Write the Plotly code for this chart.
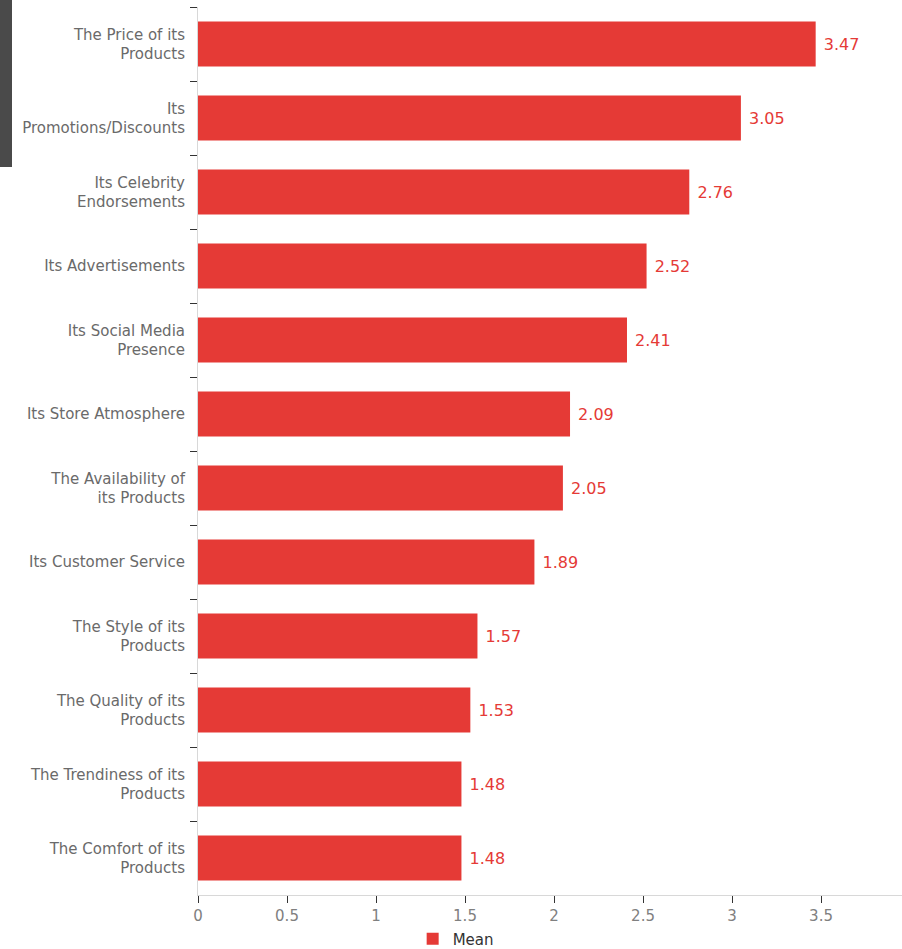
import plotly.graph_objects as go

# Mean importance rating for each attribute
attributes = [
    "The Price of its<br>Products",
    "Its<br>Promotions/Discounts",
    "Its Celebrity<br>Endorsements",
    "Its Advertisements",
    "Its Social Media<br>Presence",
    "Its Store Atmosphere",
    "The Availability of<br>its Products",
    "Its Customer Service",
    "The Style of its<br>Products",
    "The Quality of its<br>Products",
    "The Trendiness of its<br>Products",
    "The Comfort of its<br>Products",
]
mean_values = [3.47, 3.05, 2.76, 2.52, 2.41, 2.09, 2.05, 1.89, 1.57, 1.53, 1.48, 1.48]
x_tick_values = [0, 0.5, 1, 1.5, 2, 2.5, 3, 3.5]
x_tick_labels = ["0", "0.5", "1", "1.5", "2", "2.5", "3", "3.5"]

RED = "#e53a36"
FONT = "'DejaVu Sans', 'Open Sans', sans-serif"

fig = go.Figure(
    go.Bar(
        x=mean_values,
        y=attributes,
        orientation="h",
        name="Mean",
        marker=dict(color=RED, line=dict(width=0)),
        text=mean_values,
        texttemplate=" %{x:.2f}",
        textposition="outside",
        textfont=dict(color=RED, size=16, family=FONT),
        cliponaxis=False,
        showlegend=True,
    )
)

fig.update_layout(
    width=902,
    height=949,
    margin=dict(l=198, r=0, t=7, b=54, autoexpand=False),
    paper_bgcolor="white",
    plot_bgcolor="white",
    bargap=0.39,
    font=dict(family=FONT, color="#666666", size=15),
    xaxis=dict(
        range=[0, 3.955],
        tickvals=x_tick_values,
        ticktext=x_tick_labels,
        showgrid=False,
        zeroline=False,
        showline=True,
        linecolor="#d8d8d8",
        linewidth=1,
        ticks="outside",
        ticklen=7,
        tickcolor="#333333",
        ticklabelstandoff=0,
        tickfont=dict(size=15, color="#808080"),
        automargin=False,
    ),
    yaxis=dict(
        autorange="reversed",
        showgrid=False,
        zeroline=False,
        showline=True,
        linecolor="#d8d8d8",
        linewidth=1,
        ticks="outside",
        tickson="boundaries",
        ticklen=7,
        tickcolor="#333333",
        ticklabelstandoff=9,
        tickfont=dict(size=15, color="#6a6a6a"),
        automargin=False,
    ),
    legend=dict(
        orientation="h",
        x=0.366,
        xanchor="center",
        y=-0.031,
        yanchor="top",
        bgcolor="rgba(0,0,0,0)",
        font=dict(size=15, color="#333333"),
        itemwidth=30,
    ),
    shapes=[
        dict(
            type="rect",
            xref="paper",
            yref="paper",
            x0=-198 / 704,
            x1=-186 / 704,
            y0=(888 - 160) / 888,
            y1=1 + 7 / 888,
            fillcolor="#4a4a4a",
            line=dict(width=0),
            layer="above",
        )
    ],
)

fig.write_html("out.html")
